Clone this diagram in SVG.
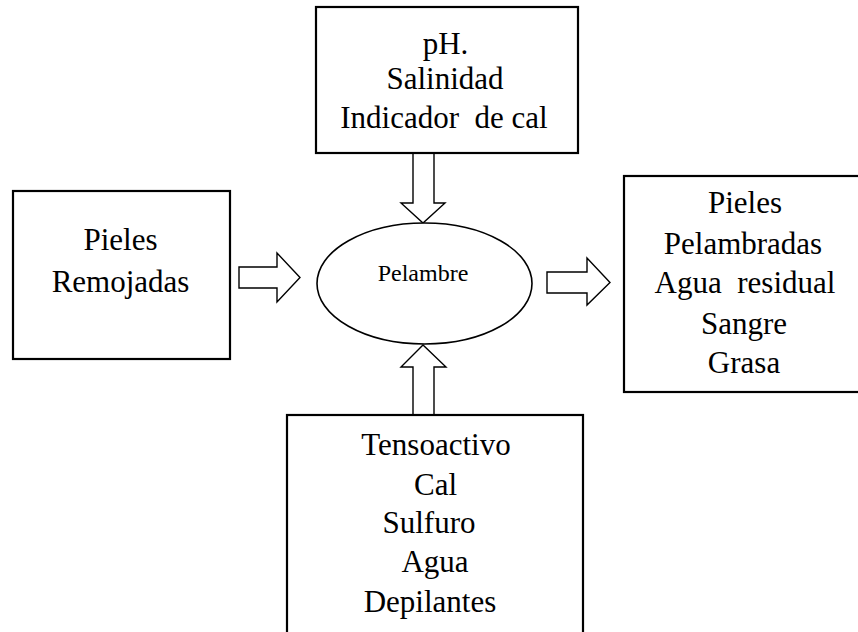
<svg xmlns="http://www.w3.org/2000/svg" width="858" height="632" viewBox="0 0 858 632">
<style>
.box{fill:#fff;stroke:#000;stroke-width:2.2}
.arr{fill:#fff;stroke:#000;stroke-width:1.4;stroke-linejoin:miter}
text{font-family:'Liberation Serif','Times New Roman',Times,'DejaVu Serif',serif;fill:#000;text-anchor:middle}
.t{font-size:31px}
.s{font-size:24px}
</style>
<rect width="858" height="632" fill="#fff"/>
<g id="connectors">
<polygon class="arr" points="239,267 277,267 277,253 300,277.5 277,302 277,288 239,288"/>
<polygon class="arr" points="547,272 587,272 587,258 610,282.5 587,305 587,293 547,293"/>
<polygon class="arr" points="413,153 434,153 434,203 445,203 423,223 401,203 413,203"/>
<polygon class="arr" points="413,415 413,367 401,367 423,345 446,367 434,367 434,415"/>
</g>
<g id="top">
<rect class="box" x="316" y="7" width="262" height="146"/>
<text class="t" x="445.5" y="54" font-family="Liberation Serif, serif">pH.</text>
<text class="t" x="445" y="89" font-family="Liberation Serif, serif">Salinidad</text>
<text class="t" x="444" y="128" font-family="Liberation Serif, serif" xml:space="preserve">Indicador  de cal</text>
</g>
<g id="left">
<rect class="box" x="13" y="191" width="217" height="168"/>
<text class="t" x="120.5" y="250" font-family="Liberation Serif, serif">Pieles</text>
<text class="t" x="120.5" y="292" font-family="Liberation Serif, serif">Remojadas</text>
</g>
<g id="center">
<ellipse cx="424.5" cy="283.5" rx="107.5" ry="60.5" fill="#fff" stroke="#000" stroke-width="1.6"/>
<text class="s" x="423" y="281" font-family="Liberation Serif, serif">Pelambre</text>
</g>
<g id="right">
<rect class="box" x="624" y="176" width="242" height="216"/>
<text class="t" x="745" y="213" font-family="Liberation Serif, serif">Pieles</text>
<text class="t" x="743" y="254" font-family="Liberation Serif, serif">Pelambradas</text>
<text class="t" x="745" y="293" font-family="Liberation Serif, serif" xml:space="preserve">Agua  residual</text>
<text class="t" x="744" y="334" font-family="Liberation Serif, serif">Sangre</text>
<text class="t" x="744" y="373" font-family="Liberation Serif, serif">Grasa</text>
</g>
<g id="bottom">
<rect class="box" x="287" y="415" width="296" height="230"/>
<text class="t" x="436" y="455" font-family="Liberation Serif, serif">Tensoactivo</text>
<text class="t" x="435.5" y="495" font-family="Liberation Serif, serif">Cal</text>
<text class="t" x="429" y="533" font-family="Liberation Serif, serif">Sulfuro</text>
<text class="t" x="435" y="572" font-family="Liberation Serif, serif">Agua</text>
<text class="t" x="430" y="612" font-family="Liberation Serif, serif">Depilantes</text>
</g>
</svg>
